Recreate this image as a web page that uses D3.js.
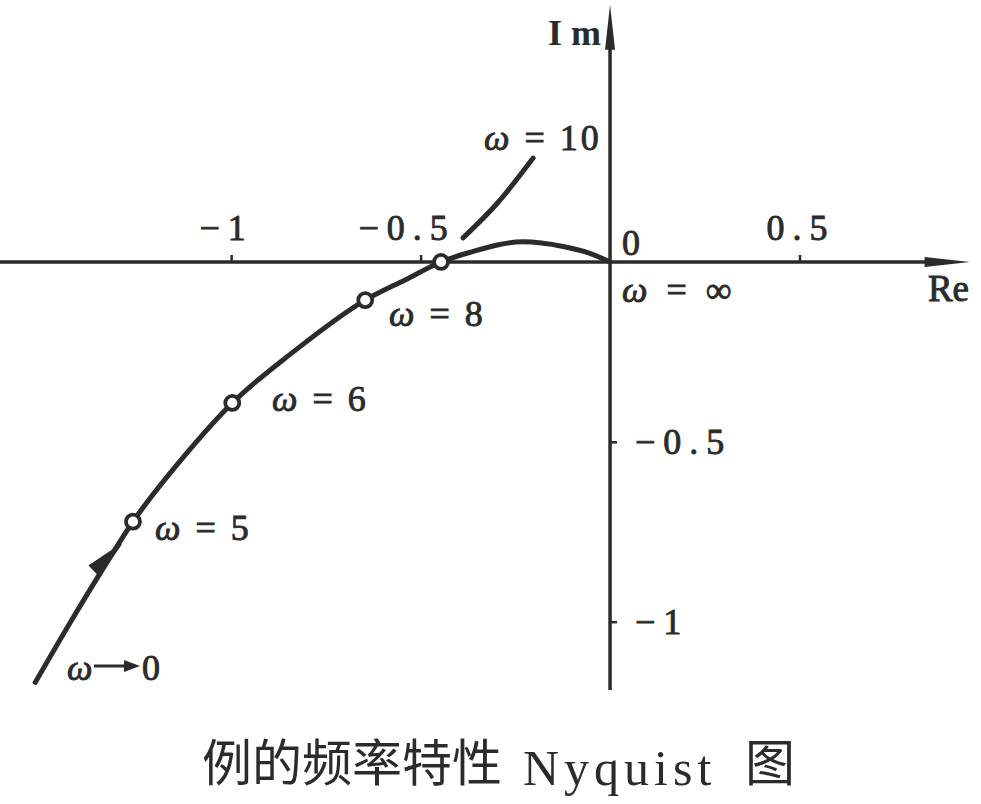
<!DOCTYPE html>
<html><head><meta charset="utf-8">
<script src="https://cdn.jsdelivr.net/npm/d3@7"></script>
<style>body{margin:0;background:#fff}svg{display:block}</style>
</head><body>
<svg id="c" width="981" height="804"></svg>
<script>
// Nyquist curve samples (Re, Im)
const curveRe = [-1.517, -1.425, -1.343, -1.259, -1.120, -0.997, -0.836, -0.646, -0.541, -0.446, -0.369, -0.230, -0.124, -0.053, 0.0];
const curveIm = [-1.169, -1.003, -0.861, -0.722, -0.535, -0.392, -0.250, -0.106, -0.050, 0.0, 0.027, 0.056, 0.043, 0.024, 0.0];
// Marked frequency points
const markOmega = ["5", "6", "8", ""];
const markRe = [-1.259, -0.997, -0.646, -0.446];
const markIm = [-0.722, -0.392, -0.106, 0.0];
// Leader line for ω = 10
const leaderRe = [-0.388, -0.297, -0.203];
const leaderIm = [0.067, 0.164, 0.289];
// Direction arrow on curve (base -> tip)
const arrowRe = [-1.361, -1.291];
const arrowIm = [-0.858, -0.786];
// Ticks
const reTicks = [-1, -0.5, 0.5];
const reTickLabels = ["\u22121", "\u22120.5", "0.5"];
const imTicks = [-0.5, -1];
const imTickLabels = ["\u22120.5", "\u22121"];

const svg = d3.select("#c");
const x = d3.scaleLinear().domain([-1.61, 0.95]).range([0, 970]);
const y = d3.scaleLinear().domain([0.72, -1.19]).range([3, 690]);
const ink = "#2b2b2b";
const serif = "'Liberation Serif','DejaVu Serif',serif";
const heavy = sel => sel.attr("stroke", ink).attr("stroke-width", 0.9).attr("paint-order", "stroke");

// Axes
svg.append("line").attr("x1", x(-1.61)).attr("x2", x(0.85)).attr("y1", y(0)).attr("y2", y(0))
  .attr("stroke", ink).attr("stroke-width", 3.5);
svg.append("path").attr("d", `M${x(0.95)},${y(0)} L${x(0.83)},${y(0)-5} L${x(0.83)},${y(0)+5} Z`).attr("fill", ink);
svg.append("line").attr("x1", x(0)).attr("x2", x(0)).attr("y1", y(-1.19)).attr("y2", y(0.6))
  .attr("stroke", ink).attr("stroke-width", 3.5);
svg.append("path").attr("d", `M${x(0)},${y(0.715)} L${x(0)-5},${y(0.59)} L${x(0)+5},${y(0.59)} Z`).attr("fill", ink);

// Re ticks
const xAxis = d3.axisTop(x).tickValues(reTicks).tickSize(7).tickFormat((d,i)=>reTickLabels[i]).tickPadding(15);
const gx = svg.append("g").attr("transform", `translate(0,${y(0)})`).call(xAxis);
gx.select(".domain").remove();
gx.selectAll("line").attr("stroke", ink).attr("stroke-width", 2.5);
gx.selectAll("text").attr("font-family", serif).attr("font-size", 36).attr("fill", ink)
  .attr("letter-spacing", 8).attr("dx", (d)=> d === -1 ? -5 : (d === -0.5 ? -14 : 1));
heavy(gx.selectAll("text"));

// Im ticks
const yAxis = d3.axisRight(y).tickValues(imTicks).tickSize(7).tickFormat((d,i)=>imTickLabels[i]).tickPadding(18);
const gy = svg.append("g").attr("transform", `translate(${x(0)},0)`).call(yAxis);
gy.select(".domain").remove();
gy.selectAll("line").attr("stroke", ink).attr("stroke-width", 2.5);
gy.selectAll("text").attr("font-family", serif).attr("font-size", 36).attr("fill", ink)
  .attr("letter-spacing", 8);
heavy(gy.selectAll("text"));

// Axis labels
heavy(svg.append("text").attr("x", x(0)+12).attr("y", y(0)-7).text("0")
  .attr("font-family", serif).attr("font-size", 36).attr("fill", ink));
heavy(svg.append("text").attr("x", 969).attr("y", y(0)+39).attr("text-anchor", "end").text("Re")
  .attr("font-family", serif).attr("font-size", 37).attr("fill", ink));
svg.append("text").attr("x", x(0)-9).attr("y", 45).attr("text-anchor", "end").text("I m")
  .attr("font-family", serif).attr("font-size", 36).attr("font-weight", "bold").attr("fill", ink);

// Curve
const pts = curveRe.map((r,i)=>[r, curveIm[i]]);
const line = d3.line().x(d=>x(d[0])).y(d=>y(d[1])).curve(d3.curveMonotoneX);
svg.append("path").attr("d", line(pts)).attr("fill", "none").attr("stroke", ink)
  .attr("stroke-width", 5).attr("stroke-linecap", "round");

// Leader line to ω = 10
const lpts = leaderRe.map((r,i)=>[r, leaderIm[i]]);
svg.append("path").attr("d", line(lpts)).attr("fill", "none").attr("stroke", ink)
  .attr("stroke-width", 5).attr("stroke-linecap", "round");

// Direction arrow on curve
{
  const a = [x(arrowRe[0]), y(arrowIm[0])], b = [x(arrowRe[1]), y(arrowIm[1])];
  const ang = Math.atan2(b[1]-a[1], b[0]-a[0]) * 180 / Math.PI;
  const len = Math.hypot(b[0]-a[0], b[1]-a[1]);
  svg.append("path").attr("d", `M${len},0 L0,-7 L0,7 Z`).attr("fill", ink)
    .attr("stroke", ink).attr("stroke-width", 1.5).attr("stroke-linejoin", "round")
    .attr("transform", `translate(${a[0]},${a[1]}) rotate(${ang})`);
}

// Markers
svg.selectAll("circle.m").data(markRe).join("circle").attr("class","m")
  .attr("cx", d=>x(d)).attr("cy", (d,i)=>y(markIm[i])).attr("r", 7)
  .attr("fill", "#fff").attr("stroke", ink).attr("stroke-width", 3.8);

// ω labels
const omegaLabel = (tx, ty, rest) => {
  const t = svg.append("text").attr("x", tx).attr("y", ty).attr("font-family", serif)
    .attr("font-size", 36).attr("fill", ink).attr("letter-spacing", 3);
  t.append("tspan").attr("font-style", "italic").text("\u03c9");
  t.append("tspan").text(rest);
  heavy(t);
  return t;
};
const labelPos = [[155, 540], [272, 411], [389, 326]];
markOmega.slice(0,3).forEach((w,i)=> omegaLabel(labelPos[i][0], labelPos[i][1], " = " + w));
omegaLabel(484, 150, " = 10");
omegaLabel(622, 302, " = \u221e").attr("letter-spacing", 5);
// ω → 0
omegaLabel(67, 680, "");
svg.append("line").attr("x1", 94).attr("x2", 128).attr("y1", 666).attr("y2", 666)
  .attr("stroke", ink).attr("stroke-width", 3);
svg.append("path").attr("d", "M140,666 L124,660 L124,672 Z").attr("fill", ink);
heavy(svg.append("text").attr("x", 142).attr("y", 680).attr("font-family", serif)
  .attr("font-size", 36).attr("fill", ink).text("0"));

// Title
const cjk = "'Noto Sans CJK SC', sans-serif";
svg.append("text").attr("x", 202).attr("y", 781).attr("font-family", cjk).attr("font-size", 50)
  .attr("fill", ink).text("例的频率特性");
svg.append("text").attr("x", 523).attr("y", 785).attr("font-family", serif).attr("font-size", 50)
  .attr("letter-spacing", 5).attr("fill", ink).text("Nyquist");
svg.append("text").attr("x", 745).attr("y", 781).attr("font-family", cjk).attr("font-size", 50)
  .attr("fill", ink).text("图");
</script>
</body></html>
